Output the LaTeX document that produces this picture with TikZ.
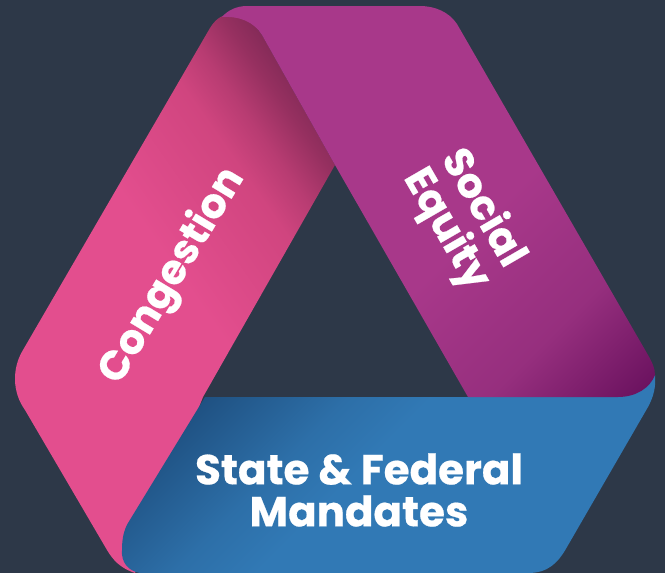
\documentclass[tikz,border=0pt]{standalone}
\usepackage{fontspec}
\setmainfont{Poppins}[BoldFeatures={FakeBold=0.5}]
\definecolor{bgcol}{HTML}{2D3848}
\definecolor{pinkbase}{HTML}{E34E8E}
\definecolor{pinka}{HTML}{D0457F}
\definecolor{pinkb}{HTML}{B83C72}
\definecolor{pinkc}{HTML}{963060}
\definecolor{pinkdark}{HTML}{822A57}
\definecolor{bluebase}{HTML}{3179B5}
\definecolor{bluemid}{HTML}{2D6FA8}
\definecolor{bluedark}{HTML}{1F5182}
\definecolor{purplebase}{HTML}{A8388A}
\definecolor{purplemid}{HTML}{962F7E}
\definecolor{purpledark}{HTML}{6C1360}
\pgfdeclarehorizontalshading{pinkgrad}{100bp}{color(0bp)=(pinkbase); color(44bp)=(pinkbase); color(49.6bp)=(pinka); color(51.4bp)=(pinkb); color(53.2bp)=(pinkc); color(54.5bp)=(pinkdark); color(100bp)=(pinkdark)}
\pgfdeclarehorizontalshading{bluegrad}{100bp}{color(0bp)=(bluedark); color(49.4bp)=(bluedark); color(54.5bp)=(bluemid); color(57.5bp)=(bluebase); color(100bp)=(bluebase)}
\pgfdeclarehorizontalshading{purplegrad}{100bp}{color(0bp)=(purplebase); color(53bp)=(purplebase); color(59.5bp)=(purplemid); color(64.7bp)=(purpledark); color(100bp)=(purpledark)}
\tikzset{
  label text/.style={text=white,font=\fontsize{42}{42}\selectfont\bfseries,align=center,inner sep=0pt},
  small label/.style={label text,font=\fontsize{41}{42}\selectfont\bfseries},
}
\begin{document}
\begin{tikzpicture}[x=1pt,y=-1pt]
\path[use as bounding box,fill=bgcol] (0,0) rectangle (665,573);
% pink band
\begin{scope}
\clip (228,15) .. controls (243,15) and (254,23) .. (262,35) -- (335,165) -- (203,397) -- (170,480) -- (135,573)
  .. controls (120,568) and (113,560) .. (107,550) -- (25,410) .. controls (12,392) and (12,368) .. (23,350) -- (210,28) .. controls (215,20) and (221,15) .. (228,15) -- cycle;
\shade[shading=pinkgrad,shading angle=35] (-167.5,786.5) rectangle (832.5,-213.5);
\end{scope}
% blue band
\begin{scope}
\clip (205,397) -- (620,397) -- (640,385) -- (655,375) .. controls (656,386) and (654,396) .. (648,407) -- (567,547) .. controls (558,563) and (548,573) .. (528,573) -- (140,573) .. controls (128,571) and (121,562) .. (122,550) .. controls (122,538) and (124,530) .. (128,523) -- cycle;
\shade[shading=bluegrad,shading angle=-45] (-167.5,786.5) rectangle (832.5,-213.5);
\end{scope}
% purple band
\begin{scope}
\clip (222,17) .. controls (228,10) and (237,6) .. (247,6) -- (420,6) .. controls (435,6) and (449,12) .. (457,24) -- (648,355) .. controls (652,362) and (655,368) .. (655,375) .. controls (650,388) and (636,397) .. (618,397) -- (468,397) -- (335,165) -- (262,35) .. controls (254,22) and (240,16) .. (222,17) -- cycle;
\shade[shading=purplegrad,shading angle=-45] (-167.5,786.5) rectangle (832.5,-213.5);
\end{scope}
\node[small label,rotate=59] (congestion) at (172.5,276) {Congestion};
\node[small label,rotate=-60] (social) at (464,219) {Social\\Equity};
\node[label text] (mandates) at (359,490) {State \& Federal\\Mandates};
\end{tikzpicture}
\end{document}
